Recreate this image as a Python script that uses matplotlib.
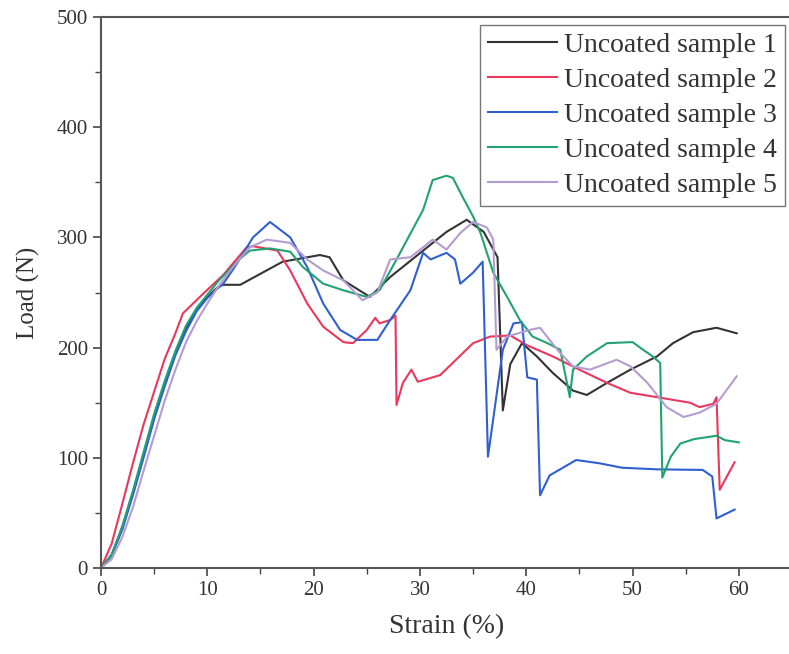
import matplotlib
matplotlib.use("Agg")
import matplotlib.pyplot as plt
from matplotlib.ticker import MultipleLocator

plt.rcParams["font.family"] = ["Liberation Serif", "DejaVu Serif"]

# sample curves (strain %, load N)
s1_x = [0, 1, 2, 3, 4, 5, 6, 7, 8, 9, 10, 11, 11.5, 13.1, 15, 17.1, 20.6, 21.5, 22.8, 25.3, 27.2, 30.3, 32.5, 34.4,
        36.0, 37.3, 37.8, 38.5, 39.6, 41, 42.5, 44.4, 45.7, 47.6, 49.8, 52.3, 53.8, 55.7, 57.9, 59.8]
s1_y = [0, 12, 36, 68, 102, 137, 168, 195, 218, 235, 246, 255, 257, 257, 267, 278, 284, 282, 261, 246, 264, 288, 305, 316,
        305, 282, 143, 185, 204, 192, 177, 161, 157, 168, 180, 192, 204, 214, 218, 213]

s2_x = [0, 1, 2, 3, 4, 5, 6, 7, 7.7, 9.3, 11.5, 13.7, 14.3, 16.6, 17.8, 19.4, 20.9, 22.8, 23.7, 25, 25.8, 26.2, 27.2,
        27.7, 27.8, 28.4, 29.2, 29.8, 31.9, 35, 36.6, 38.5, 40.1, 42.5, 45, 47.6, 49.8, 52.3, 55.4, 56.3, 57.6, 57.9,
        58.2, 59.6]
s2_y = [0, 22, 58, 95, 130, 160, 190, 213, 231, 246, 266, 291, 292, 288, 270, 240, 219, 205, 204, 216, 227, 222, 225,
        229, 148, 168, 180, 169, 175, 204, 210, 211, 202, 192, 180, 168, 159, 155, 150, 146, 149, 155,
        71, 96]

s3_x = [0, 1, 2, 3, 4, 5, 6, 7, 8, 9, 10, 11, 11.5, 12.5, 14.3, 15.9, 17.8, 19.4, 20.9, 22.5, 24.1, 26, 27.2, 29.1,
        30.3, 31, 32.5, 33.3, 33.8, 35, 35.9, 36.4, 37.8, 38.8, 39.6, 40.1, 41, 41.3, 42.2, 44.7, 46.9, 49, 52.4, 56.6,
        57.5, 57.9, 59.6]
s3_y = [0, 11, 35, 66, 100, 135, 165, 193, 215, 233, 245, 254, 258, 272, 300, 314, 300, 273, 240, 216, 207, 207, 225, 252,
        286, 280, 286, 280, 258, 268, 278, 101, 198, 222, 223, 173, 171, 66, 84, 98, 95, 91, 89.5, 89,
        83, 45, 53]

s4_x = [0, 1, 2, 3, 4, 5, 6, 7, 8, 9, 10, 11, 12, 13, 14, 15.9, 17.8, 19, 20.9, 22.8, 25, 26.2, 27.8, 30.3, 31.2,
        32.5, 33.1, 34, 35, 35.7, 36.9, 38.2, 39.4, 40.6, 42, 43.2, 44.1, 44.4, 45.7, 47.6, 50, 51, 51.9, 52.6, 52.8,
        53.6, 54.5, 55.8, 57.9, 58.7, 60]
s4_y = [0, 12, 38, 70, 105, 140, 170, 197, 220, 236, 248, 260, 270, 280, 288, 290, 287, 273, 258, 252, 246, 252, 280, 325, 352,
        356, 354, 337, 319, 304, 268, 246, 225, 210, 204, 198, 155, 180, 192, 204, 205, 198, 192, 186, 82,
        101, 113, 117, 120, 116, 114]

s5_x = [0, 1, 2, 3, 4, 5, 6, 7, 8, 9, 10, 11, 12, 13, 14, 15.6, 17.8, 19.4, 20.9, 22.8, 24.6, 26, 27.2, 29.1, 30.3,
        31.2, 32.5, 33.8, 35, 36.3, 36.9, 37.2, 38.2, 40.3, 41.3, 42.2, 43.2, 44.4, 46, 48.5, 49.8, 51.4, 53.2, 54.8,
        56.3, 57.9, 59.8]
s5_y = [0, 8, 28, 55, 88, 120, 152, 180, 205, 224, 240, 255, 268, 280, 291, 298, 295, 280, 270, 261, 243, 250, 280, 282, 291,
        298, 289, 304, 314, 309, 298, 198, 210, 216, 218, 207, 195, 183, 180, 189, 183, 168, 146, 137,
        141, 149, 174]

labels = ["Uncoated sample 1", "Uncoated sample 2", "Uncoated sample 3", "Uncoated sample 4", "Uncoated sample 5"]
colors = ["#333333", "#e8385c", "#2f5fd0", "#23a271", "#b49cd0"]

W, H = 789, 654
fig = plt.figure(figsize=(W / 100, H / 100), dpi=100)
ax = fig.add_axes([101 / W, 1 - 568 / H, 691 / W, 551 / H])

series = [(s1_x, s1_y), (s2_x, s2_y), (s3_x, s3_y), (s4_x, s4_y), (s5_x, s5_y)]
for (x, y), c, lab in zip(series, colors, labels):
  ax.plot(x, y, color=c, lw=1.5, label=lab)

ax.set_xlim(0, 65)
ax.set_ylim(0, 500)
ax.set_xticks(range(0, 61, 10))
ax.set_yticks(range(0, 501, 100))
ax.xaxis.set_minor_locator(MultipleLocator(5))
ax.yaxis.set_minor_locator(MultipleLocator(50))
ax.tick_params(which="both", direction="out", color="#444444", labelsize=15, labelcolor="#333333")
ax.tick_params(which="major", length=6, width=1.2)
ax.tick_params(which="minor", length=4, width=1.0)
for sp in ax.spines.values():
  sp.set_color("#555555")
  sp.set_linewidth(1.5)

ax.set_xlabel("Strain (%)", fontsize=20, color="#333333", labelpad=10)
ax.set_ylabel("Load (N)", fontsize=18, color="#333333", labelpad=12)

leg = ax.legend(loc="upper right", bbox_to_anchor=(785 / W, 1 - 25 / H), bbox_transform=fig.transFigure,
                fontsize=20, frameon=True, fancybox=False, handlelength=2.5, handletextpad=0.25,
                labelspacing=0.34, borderpad=0.28, borderaxespad=0)
leg.get_frame().set_edgecolor("#555555")
leg.get_frame().set_linewidth(1.0)
for t in leg.get_texts():
  t.set_color("#333333")

fig.savefig("out.png", dpi=100)
